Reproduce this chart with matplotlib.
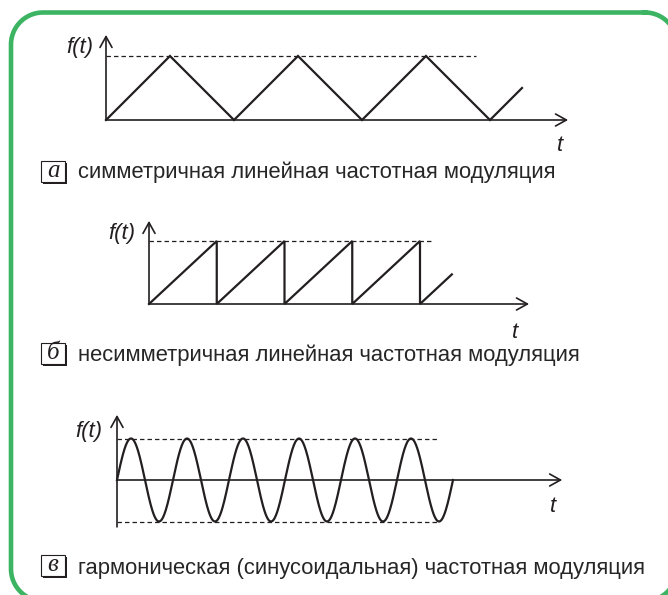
import matplotlib.pyplot as plt
import numpy as np
from matplotlib.patches import Rectangle

plt.rcParams['lines.scale_dashes'] = False

# --- data -------------------------------------------------------------
# a: symmetric linear FM (triangle), time in periods
tri_t = [0, 0.5, 1, 1.5, 2, 2.5, 3, 3.25]
tri_f = [0, 1, 0, 1, 0, 1, 0, 0.5]
tri_level_end = 2.89

# b: asymmetric linear FM (sawtooth)
saw_t = [0, 1, 1, 2, 2, 3, 3, 4, 4, 4.47]
saw_f = [0, 1, 0, 1, 0, 1, 0, 1, 0, 0.47]
saw_level_end = 4.21

# c: harmonic FM (sine)
sin_periods = 6
sin_amp = 1.0
sin_level_end = 5.73

captions = ["симметричная линейная частотная модуляция",
            "несимметричная линейная частотная модуляция",
            "гармоническая (синусоидальная) частотная модуляция"]
letters = ["а", "б", "в"]

INK = "#231f20"
GREEN = "#3cb462"
W, H = 668, 595

fig = plt.figure(figsize=(W / 100, H / 100), dpi=100)
fig.patch.set_facecolor("white")

# background axes in image pixels (y down) for the frame and captions
bg = fig.add_axes([0, 0, 1, 1])
bg.set_xlim(0, W)
bg.set_ylim(H, 0)
bg.axis("off")


def rounded_frame(x0, y0, x1, y1, r):
    xs, ys = [], []
    corners = [(x1 - r, y0 + r, -90, 0), (x1 - r, y1 - r, 0, 90),
               (x0 + r, y1 - r, 90, 180), (x0 + r, y0 + r, 180, 270)]
    for cx, cy, a0, a1 in corners:
        a = np.radians(np.linspace(a0, a1, 30))
        xs.extend(cx + r * np.cos(a))
        ys.extend(cy + r * np.sin(a))
    xs.append(xs[0])
    ys.append(ys[0])
    bg.plot(xs, ys, color=GREEN, lw=3.3, clip_on=False,
            solid_joinstyle="round")


rounded_frame(11, 12.5, 677, 601, 32)


def panel(ox, oy, sx, sy, xlim, ylim):
    rect = [(ox + xlim[0] * sx) / W, (H - oy + ylim[0] * sy) / H,
            (xlim[1] - xlim[0]) * sx / W, (ylim[1] - ylim[0]) * sy / H]
    ax = fig.add_axes(rect)
    ax.set_xlim(*xlim)
    ax.set_ylim(*ylim)
    ax.axis("off")
    arrow = dict(arrowstyle="->,head_length=0.65,head_width=0.36",
                 color=INK, lw=1.2, shrinkA=0, shrinkB=0, mutation_scale=12)
    ax.annotate("", xy=(xlim[1], 0), xytext=(0, 0), arrowprops=arrow,
                annotation_clip=False)
    ax.annotate("", xy=(0, ylim[1]), xytext=(0, ylim[0]), arrowprops=arrow,
                annotation_clip=False)
    return ax


def labels(ax, fx, fy, tx, ty):
    ax.text(fx, fy, "f(t)", ha="right", va="center", fontsize=16,
            style="italic", family="Liberation Sans", color=INK)
    ax.text(tx, ty, "t", ha="center", va="center", fontsize=16,
            style="italic", family="Liberation Sans", color=INK)


dash = dict(color=INK, lw=0.9, dashes=(3.2, 2.2))
wave = dict(color=INK, lw=1.6, clip_on=False)

# panel a
ax = panel(106, 120, 128, 64, (0, 3.61), (0, 1.33))
ax.plot([0, tri_level_end], [1, 1], **dash)
ax.plot(tri_t, tri_f, solid_joinstyle="miter", **wave)
labels(ax, -0.1, 1.14, 3.55, -0.4)

# panel b
ax = panel(149, 304, 67.75, 63, (0, 5.61), (0, 1.32))
ax.plot([0, saw_level_end], [1, 1], **dash)
ax.plot(saw_t, saw_f, solid_joinstyle="miter", **wave)
labels(ax, -0.21, 1.12, 5.4, -0.46)

# panel c
ax = panel(117, 480, 56, 41.5, (0, 7.95), (-1.13, 1.57))
ax.plot([0, sin_level_end], [sin_amp, sin_amp], **dash)
ax.plot([0, sin_level_end], [-sin_amp, -sin_amp], **dash)
t = np.linspace(0, sin_periods, 800)
ax.plot(t, sin_amp * np.sin(2 * np.pi * t), **wave)
labels(ax, -0.27, 1.17, 7.79, -0.65)

# captions with boxed letters
for (by, ty), letter, cap in zip([(161, 178), (343, 361), (555, 574)], letters, captions):
    bg.add_patch(Rectangle((42.5, by + 1.5), 24, 21, fc=INK, ec="none"))
    bg.add_patch(Rectangle((41, by), 24, 21, fc="white", ec=INK, lw=0.8))
    bg.text(53, by + 10, letter, ha="center", va="center", fontsize=18,
            style="italic", family="Liberation Serif", color=INK)
    bg.text(78, ty, cap, ha="left", va="baseline", fontsize=15.8,
            family="Liberation Sans", color="#262626")

fig.savefig("out.png", dpi=100, facecolor="white")
